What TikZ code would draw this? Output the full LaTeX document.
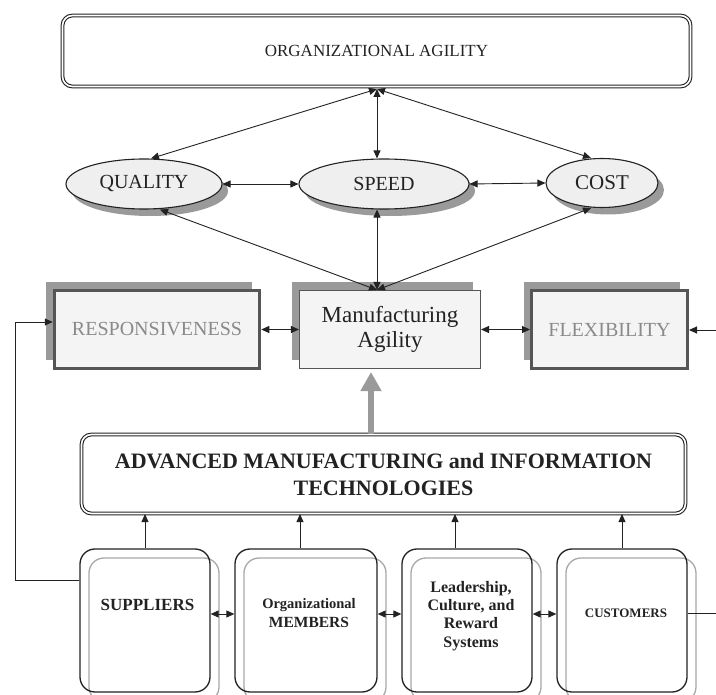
\documentclass[tikz,border=0pt]{standalone}
\usepackage{fontspec}
\setmainfont{Liberation Serif}
\usetikzlibrary{arrows.meta,shapes.geometric,shadows}
\definecolor{ink}{HTML}{222222}
\definecolor{shade}{HTML}{9A9A9A}
\definecolor{boxfill}{HTML}{F4F4F4}
\definecolor{ellfill}{HTML}{EFEFEF}
\definecolor{border}{HTML}{555555}
\definecolor{softtext}{HTML}{8A8A8A}
\definecolor{copyline}{HTML}{A8A8A8}
\begin{document}
\begin{tikzpicture}[x=1pt,y=-1pt,
  tip/.tip={Triangle[length=8pt,width=7pt]},
  arr/.style={draw=ink, line width=0.9pt, -tip},
  darr/.style={draw=ink, line width=0.9pt, tip-tip},
  dblbox/.style={draw=ink, double=white, double distance=1.6pt, line width=1.1pt, rounded corners=10pt, inner sep=0pt, text=ink},
  ell/.style={ellipse, draw=ink, line width=1.1pt, fill=ellfill, inner sep=0pt, text=ink,
    font=\fontsize{20}{22}\selectfont,
    drop shadow={shadow xshift=6pt, shadow yshift=-7pt, fill=shade, opacity=1}},
  qbox/.style={draw=border, line width=3pt, fill=boxfill, inner sep=0pt, minimum height=78pt,
    text=softtext, font=\fontsize{20}{22}\selectfont,
    drop shadow={shadow xshift=-8pt, shadow yshift=8pt, fill=shade, opacity=1}},
  mbox/.style={draw=border, line width=1.1pt, fill=boxfill, inner sep=0pt, minimum width=181pt, minimum height=78pt,
    text=ink, align=center, font=\fontsize{23}{25}\selectfont,
    drop shadow={shadow xshift=-8pt, shadow yshift=8pt, fill=shade, opacity=1}},
  actor/.style={draw=ink, line width=1.3pt, rounded corners=15pt, minimum width=130pt, minimum height=143pt, inner sep=0pt},
  acopy/.style={draw=copyline, line width=1.3pt, rounded corners=15pt},
  btext/.style={text=ink, align=center, inner sep=0pt, font=\bfseries},
  grayarrow/.style={draw=shade, line width=6pt, -{Triangle[length=19pt,width=20pt]}}
]
\useasboundingbox (0,0) rectangle (716,695);

% top
\node[dblbox, minimum width=628pt, minimum height=71pt, font=\fontsize{17}{20}\selectfont] (OA) at (376.5,51) {ORGANIZATIONAL AGILITY};
\coordinate (J) at (377,89);

% ellipses
\node[ell, minimum width=156pt, minimum height=50pt] (Q) at (144,184) {QUALITY};
\node[ell, minimum width=170pt, minimum height=50pt] (P) at (384,184) {SPEED};
\node[ell, minimum width=112pt, minimum height=49pt, font=\fontsize{21}{23}\selectfont] (Co) at (602,183) {COST};

% middle row
\node[qbox, minimum width=205.5pt] (R) at (157,329.5) {RESPONSIVENESS};
\node[mbox] (M) at (390,329.5) {Manufacturing\\Agility};
\node[qbox, minimum width=156pt] (F) at (609.5,329.5) {FLEXIBILITY};
\coordinate (MJ) at ([xshift=-13pt]M.north);

% advanced technologies
\node[dblbox, minimum width=604pt, minimum height=79pt, align=center,
  font=\bfseries\fontsize{22}{27}\selectfont] (A) at (383.5,474) {ADVANCED MANUFACTURING and INFORMATION\\TECHNOLOGIES};

% bottom actors (grey copies behind)
\foreach \x/\w in {145/130, 306/142, 467/130, 622/130}{
  \draw[acopy] (\x-\w/2+9,558) rectangle (\x+\w/2+9,702);
}
\node[actor] (S) at (145,620.5) {};
\node[actor, minimum width=142pt] (O) at (306,620.5) {};
\node[actor] (L) at (467,620.5) {};
\node[actor] (C) at (622,620.5) {};

\node[btext, font=\bfseries\fontsize{17}{20}\selectfont] (St) at (147.5,605) {SUPPLIERS};
\node[btext, font=\bfseries\fontsize{15}{18}\selectfont] (Ot) at (309,613.5) {{\fontsize{14.5}{18}\selectfont Organizational}\\[1pt]{\fontsize{15.5}{18}\selectfont MEMBERS}};
\node[btext, font=\bfseries\fontsize{16}{18.3}\selectfont] (Lt) at (471,616) {Leadership,\\Culture, and\\Reward\\Systems};
\node[btext, font=\bfseries\fontsize{13}{15}\selectfont] (Ct) at (626,613) {CUSTOMERS};

% connectors top
\draw[darr] (J) -- ([xshift=7pt]Q.north);
\draw[darr] (J) -- (J |- P.north);
\draw[darr] (J) -- ([xshift=-11pt]Co.north);
\draw[darr] (Q.east) -- (P.west);
\draw[darr] (P.east) -- (Co.west);
\draw[darr] (MJ) -- ([xshift=16pt]Q.south);
\draw[darr] (MJ) -- (MJ |- P.south);
\draw[darr] (MJ) -- ([xshift=-11pt]Co.south);

% middle row connectors
\draw[darr] (R.east) -- (M.west);
\draw[darr] (M.east) -- (F.west);
\coordinate (RE) at (716,330);
\draw[arr] (RE) -- (RE -| F.east);

% gray arrow
\coordinate (GA) at ([xshift=-19pt]M.south);
\draw[grayarrow, shorten >=3pt] (GA |- A.north) -- (GA);

% left feedback
\coordinate (L1) at (15,580);
\coordinate (L2) at (15,322);
\draw[arr] (S.west |- L1) -- (L1) -- (L2) -- (L2 -| R.west);

% actors to technologies
\draw[arr] (S.north) -- (S.north |- A.south);
\draw[arr] ([xshift=-6pt]O.north) -- ([xshift=-6pt]O.north |- A.south);
\draw[arr] ([xshift=-12pt]L.north) -- ([xshift=-12pt]L.north |- A.south);
\draw[arr] (C.north) -- (C.north |- A.south);

% actors between
\coordinate (BY) at (0,614);
\draw[darr] (S.east |- BY) -- (O.west |- BY);
\draw[darr] (O.east |- BY) -- (L.west |- BY);
\draw[darr] (L.east |- BY) -- (C.west |- BY);
\coordinate (CE) at (716,613);
\draw[draw=ink, line width=0.9pt] (C.east |- CE) -- (CE);
\end{tikzpicture}
\end{document}
